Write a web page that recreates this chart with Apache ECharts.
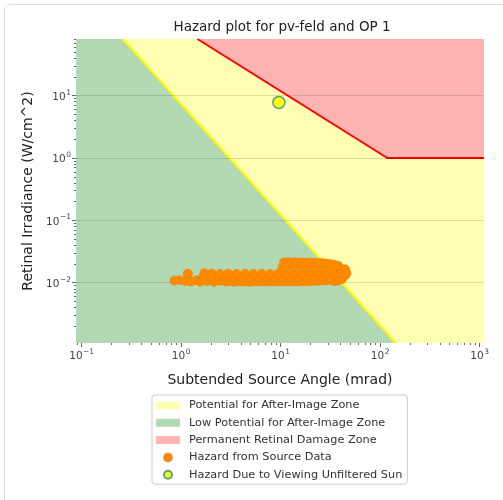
<!DOCTYPE html>
<html><head><meta charset="utf-8">
<script src="https://cdn.jsdelivr.net/npm/echarts@6/dist/echarts.min.js"></script>
<style>html,body{margin:0;padding:0;background:#fff}#c{width:503px;height:500px}</style>
</head><body><div id="c"></div><script>
// ---- data ----
const xRange = [0.0877, 1105];
const yRange = [0.00108, 81];
const xMajorTicks = [0.1, 1, 10, 100, 1000];
const yMajorTicks = [0.01, 0.1, 1, 10];
// zone boundaries (end points lie on the plot edges)
const potentialZoneTop = [[0.0877, 81], [1105, 81]];
const lowPotentialZone = [[0.0877, 81], [0.259, 81], [143.9, 0.00108]];
const lowPotentialBoundary = [[0.259, 81], [143.9, 0.00108]];
const permanentBoundary = [[1.457, 81], [118, 1], [1105, 1]];
const sourceAngle = [
  0.85,0.96,1.09,1.25,1.41,1.55,1.82,2.14,2.45,2.82,3.09,3.39,3.72,4.08,4.48,4.91,5.39,5.91,6.48,7.11,7.8,8.56,9.39,10.3,11.3,12.4,13.6,14.9,16.4,17.9,19.7,21.6,23.7,26.0,28.5,31.3,34.3,37.7,41.3,
  1.17,1.66,1.95,2.34,2.82,3.39,4.08,4.91,5.91,7.11,8.56,10.3,12.4,14.9,17.9,21.6,26.0,31.3,37.7,42.0,44.5,
  1.16,1.71,2.02,2.45,2.97,3.61,4.38,5.3,6.43,7.8,9.39,11.3,13.6,16.4,19.7,23.7,28.5,34.3,40.0,46.0,
  10.4,11.3,13.6,16.4,19.7,23.7,28.5,34.3,40.0,44.5,
  10.8,11.8,12.9,14.1,15.4,16.8,18.4,20.1,22.0,24.1,26.4,28.9,31.6,34.6,37.8
];
const sourceIrradiance = [
  0.0108,0.0110,0.0106,0.0104,0.0110,0.0103,0.0106,0.0103,0.0107,0.0104,0.0106,0.0103,0.0105,0.0104,0.0105,0.0103,0.0105,0.0104,0.0105,0.0104,0.0105,0.0104,0.0105,0.0104,0.0105,0.0104,0.0105,0.0104,0.0105,0.0105,0.0106,0.0106,0.0107,0.0108,0.0109,0.0110,0.0106,0.0108,0.0114,
  0.0138,0.0125,0.0122,0.0128,0.0121,0.0125,0.0122,0.0124,0.0122,0.0124,0.0122,0.0123,0.0122,0.0123,0.0122,0.0123,0.0122,0.0123,0.0125,0.0128,0.0130,
  0.0140,0.0143,0.0141,0.0139,0.0141,0.0139,0.0140,0.0139,0.0140,0.0139,0.0140,0.0139,0.0140,0.0140,0.0141,0.0141,0.0142,0.0142,0.0142,0.0142,
  0.0176,0.0176,0.0178,0.0176,0.0178,0.0176,0.0176,0.0174,0.0170,0.0165,
  0.0212,0.0214,0.0212,0.0213,0.0212,0.0212,0.0211,0.0211,0.0210,0.0209,0.0207,0.0204,0.0200,0.0195,0.0188
];
const sunPoint = [[9.6, 7.8]];
const names = ['Potential for After-Image Zone','Low Potential for After-Image Zone','Permanent Retinal Damage Zone','Hazard from Source Data','Hazard Due to Viewing Unfiltered Sun'];

// minor tick positions (axis decoration)
function minorTicks(r){const out=[];for(let e=-4;e<=3;e++)for(let k=2;k<=9;k++){const v=k*Math.pow(10,e);if(v>=r[0]&&v<=r[1])out.push(v);}return out;}
const xMinorTicks = minorTicks(xRange);
const yMinorTicks = minorTicks(yRange);

const FONT = 'DejaVu Sans';
const fmt = v => { const e = Math.round(Math.log10(v)); return '{b|10}{s|' + (e < 0 ? '\u2212' : '') + Math.abs(e) + '}'; };
const rich = {
  b: {fontSize: 10.5, color: '#444', fontFamily: FONT, lineHeight: 14, verticalAlign: 'bottom'},
  s: {fontSize: 7.5, color: '#444', fontFamily: FONT, lineHeight: 14, verticalAlign: 'top', padding: [0,0,0,0.5]}
};
const tickStyle = {color: '#666', width: 1};

const chart = echarts.init(document.getElementById('c'), null, {renderer: 'canvas'});
chart.setOption({
  animation: false,
  backgroundColor: '#fff',
  graphic: [
    {type: 'rect', shape: {x: 4.5, y: 4.5, width: 540, height: 540, r: 6}, style: {fill: 'none', stroke: '#dcdcdc', lineWidth: 1}, silent: true, z: -10},
    {type: 'text', x: 282, y: 27, style: {text: 'Hazard plot for pv-feld and OP 1', fontSize: 13.5, fontFamily: FONT, fill: '#222', align: 'center', verticalAlign: 'middle'}, silent: true}
  ],
  grid: {left: 76, right: 19, top: 39, bottom: 157, containLabel: false},
  xAxis: [
    {type: 'log', logBase: 10, min: xRange[0], max: xRange[1], position: 'bottom',
     axisLine: {show: false},
     axisTick: {show: true, customValues: xMajorTicks, length: 4, lineStyle: tickStyle},
     axisLabel: {customValues: xMajorTicks, formatter: fmt, rich: rich, margin: 5},
     splitLine: {show: false},
     name: 'Subtended Source Angle (mrad)', nameLocation: 'middle', nameGap: 30,
     nameTextStyle: {fontSize: 14, color: '#222', fontFamily: FONT}},
    {type: 'log', logBase: 10, min: xRange[0], max: xRange[1], position: 'bottom',
     axisLine: {show: false},
     axisTick: {show: true, customValues: xMinorTicks, length: 2, lineStyle: tickStyle},
     axisLabel: {show: false}, splitLine: {show: false}}
  ],
  yAxis: [
    {type: 'log', logBase: 10, min: yRange[0], max: yRange[1], position: 'left', z: 2,
     axisLine: {show: false},
     axisTick: {show: true, customValues: yMajorTicks, length: 4, lineStyle: tickStyle},
     axisLabel: {customValues: yMajorTicks, formatter: fmt, rich: rich, margin: 5},
     splitLine: {show: true, lineStyle: {color: 'rgba(0,0,0,0.13)', width: 1}},
     name: 'Retinal Irradiance (W/cm^2)', nameLocation: 'middle', nameGap: 38,
     nameTextStyle: {fontSize: 14, color: '#222', fontFamily: FONT}},
    {type: 'log', logBase: 10, min: yRange[0], max: yRange[1], position: 'left',
     axisLine: {show: false},
     axisTick: {show: true, customValues: yMinorTicks, length: 2, lineStyle: tickStyle},
     axisLabel: {show: false}, splitLine: {show: false}}
  ],
  legend: {
    orient: 'vertical', left: 152, top: 395, padding: [4, 5, 3, 4], itemGap: 4.3,
    itemWidth: 24, itemHeight: 8, borderColor: '#cccccc', borderWidth: 1, borderRadius: 3,
    backgroundColor: '#fff', selectedMode: false,
    textStyle: {fontSize: 11.3, color: '#333', fontFamily: FONT, lineHeight: 13, padding: [0, 0, 0, 4]},
    data: [
      {name: names[0], icon: 'rect', itemStyle: {color: '#ffffb3', borderWidth: 0}},
      {name: names[1], icon: 'rect', itemStyle: {color: '#b3d9b3', borderWidth: 0}},
      {name: names[2], icon: 'rect', itemStyle: {color: '#ffb3b3', borderWidth: 0}},
      {name: names[3], icon: 'circle'},
      {name: names[4], icon: 'circle'}
    ]
  },
  series: [
    {name: names[0], type: 'line', data: potentialZoneTop, symbol: 'none', silent: true, z: 1, clip: true,
     itemStyle: {color: '#ffffb3'}, lineStyle: {width: 0, opacity: 0}, areaStyle: {color: '#ffffb3', opacity: 1, origin: 'start'}},
    {name: names[1], type: 'line', data: lowPotentialZone, symbol: 'none', silent: true, z: 1, clip: true,
     itemStyle: {color: '#b3d9b3'}, lineStyle: {width: 0, opacity: 0}, areaStyle: {color: '#b3d9b3', opacity: 1, origin: 'start'}},
    {name: 'boundary-low', type: 'line', data: lowPotentialBoundary, symbol: 'none', silent: true, z: 1, clip: true,
     lineStyle: {color: '#ffff00', width: 2}},
    {name: names[2], type: 'line', data: permanentBoundary, symbol: 'none', silent: true, z: 1, clip: true,
     itemStyle: {color: '#ffb3b3'}, lineStyle: {color: '#ff0000', width: 2}, areaStyle: {color: '#ffb3b3', opacity: 1, origin: 'end'}},
    {name: names[3], type: 'scatter', z: 3, symbolSize: 9, silent: true,
     data: sourceAngle.map((x, i) => [x, sourceIrradiance[i]]),
     itemStyle: {color: '#ff8c00', borderColor: 'rgba(225,110,0,0.55)', borderWidth: 0.6, opacity: 1}},
    {name: names[4], type: 'scatter', z: 4, symbolSize: 12, silent: true, data: sunPoint,
     itemStyle: {color: '#ffff00', borderColor: '#5c9e8f', borderWidth: 1.5, opacity: 1}}
  ]
});
</script></body></html>
